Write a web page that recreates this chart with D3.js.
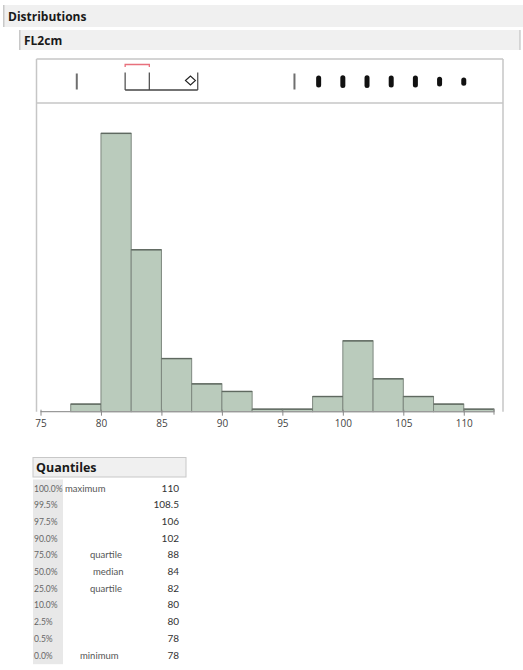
<!DOCTYPE html>
<html>
<head>
<meta charset="utf-8">
<script src="https://cdn.jsdelivr.net/npm/d3@7"></script>
<style>
  html, body { margin: 0; padding: 0; background: #fff; }
  svg { display: block; }
  text { font-family: "Open Sans", "Noto Sans", sans-serif; }
  .tbl text { font-family: Lato, "Open Sans", sans-serif; }
</style>
</head>
<body>
<svg id="chart" width="523" height="670"></svg>
<script>
// FL2cm distribution: histogram bins (width 2.5), outlier box plot and quantiles
const binStart = 77.5;
const binWidth = 2.5;
const binCounts = [3, 110, 64, 21, 11, 8, 1, 1, 6, 28, 13, 6, 3, 1];

const axisTicks = [75, 80, 85, 90, 95, 100, 105, 110];

const quartile1 = 82;
const median = 84;
const quartile3 = 88;
const meanValue = 87.4;
const shortestHalf = [82, 84];

const faintOutliers = [78, 96];
const outlierValues = [98, 100, 102, 104, 106, 108, 110];
const outlierCounts = [6, 8, 8, 6, 6, 3, 1];

const quantileLevels = ["100.0%", "99.5%", "97.5%", "90.0%", "75.0%", "50.0%", "25.0%", "10.0%", "2.5%", "0.5%", "0.0%"];
const quantileNames = ["maximum", "", "", "", "quartile", "median", "quartile", "", "", "", "minimum"];
const quantileValues = ["110", "108.5", "106", "102", "88", "84", "82", "80", "80", "78", "78"];

const svg = d3.select("#chart");

// ---- section headers ----
svg.append("rect").attr("x", 3).attr("y", 5).attr("width", 520).attr("height", 22).attr("fill", "#f0f0f0");
svg.append("rect").attr("x", 3).attr("y", 5).attr("width", 1.5).attr("height", 22).attr("fill", "#c8c8c8");
svg.append("text").attr("x", 8).attr("y", 21).attr("font-size", 12).attr("font-weight", "bold")
  .attr("fill", "#1a1a1a").text("Distributions");

svg.append("rect").attr("x", 19).attr("y", 30).attr("width", 501).attr("height", 20).attr("fill", "#f0f0f0");
svg.append("rect").attr("x", 19).attr("y", 30).attr("width", 1.5).attr("height", 20).attr("fill", "#c8c8c8");
svg.append("rect").attr("x", 519.5).attr("y", 30).attr("width", 1).attr("height", 20).attr("fill", "#b8b8b8");
svg.append("text").attr("x", 24).attr("y", 45).attr("font-size", 12).attr("font-weight", "bold")
  .attr("fill", "#1a1a1a").text("FL2cm");

// ---- plot frame ----
const frameL = 36.5, frameR = 503, frameT = 59, frameSep = 103, frameB = 411.7;

const x = d3.scaleLinear().domain([75, 112.5]).range([40.5, 494]);
const y = d3.scaleLinear().domain([0, 122]).range([frameB, frameSep]);

const frame = svg.append("g").attr("fill", "none").attr("stroke", "#c6c6c6").attr("stroke-width", 1.5);
frame.append("line").attr("x1", frameL).attr("x2", frameR).attr("y1", frameT).attr("y2", frameT);
frame.append("line").attr("x1", frameL).attr("x2", frameR).attr("y1", frameSep).attr("y2", frameSep);
frame.append("line").attr("x1", frameL).attr("x2", frameL).attr("y1", frameT).attr("y2", frameB);
frame.append("line").attr("x1", frameR).attr("x2", frameR).attr("y1", frameT).attr("y2", frameB);

// ---- histogram ----
const bins = binCounts.map((c, i) => ({ x0: binStart + i * binWidth, x1: binStart + (i + 1) * binWidth, count: c }));

svg.append("g").selectAll("rect").data(bins).join("rect")
  .attr("x", d => x(d.x0))
  .attr("y", d => y(d.count))
  .attr("width", d => x(d.x1) - x(d.x0))
  .attr("height", d => y(0) - y(d.count))
  .attr("fill", "#bacbbc")
  .attr("stroke", "#7e887f")
  .attr("stroke-width", 1);

// darker top edges
svg.append("g").selectAll("line").data(bins).join("line")
  .attr("x1", d => x(d.x0)).attr("x2", d => x(d.x1))
  .attr("y1", d => y(d.count)).attr("y2", d => y(d.count))
  .attr("stroke", "#5f6960").attr("stroke-width", 1.4);

// ---- axis ----
const axis = d3.axisBottom(x).tickValues(axisTicks).tickSize(4).tickPadding(4).tickFormat(d3.format("d"));
const axisG = svg.append("g").attr("transform", `translate(0,${frameB})`).call(axis);
axisG.select(".domain").attr("stroke", "#9a9a9a").attr("stroke-width", 1.2)
  .attr("d", `M${x(75)},0H${x(112.5)}`);
axisG.selectAll(".tick line").attr("stroke", "#8a8a8a").attr("y1", -2);
axisG.selectAll(".tick text").attr("font-size", 10).attr("fill", "#444")
  .attr("font-family", "'Open Sans', sans-serif");
axisG.append("line").attr("x1", x(112.5)).attr("x2", x(112.5)).attr("y1", -3).attr("y2", 3)
  .attr("stroke", "#8a8a8a");

// ---- outlier box plot ----
const box = svg.append("g");
const boxTop = 72.5, boxBot = 90;
[quartile1, median, quartile3].forEach(v => {
  box.append("line").attr("x1", x(v)).attr("x2", x(v)).attr("y1", boxTop).attr("y2", boxBot)
    .attr("stroke", "#555").attr("stroke-width", 1.3);
});
box.append("line").attr("x1", x(quartile1)).attr("x2", x(quartile3)).attr("y1", boxBot).attr("y2", boxBot)
  .attr("stroke", "#444").attr("stroke-width", 1.3);

// mean diamond
const mx = x(meanValue), my = 80.5;
box.append("path").attr("d", `M${mx - 5},${my}L${mx},${my - 4.5}L${mx + 5},${my}L${mx},${my + 4.5}Z`)
  .attr("fill", "#fff").attr("stroke", "#222").attr("stroke-width", 1.1);

// shortest half bracket
box.append("path")
  .attr("d", `M${x(shortestHalf[0])},67V64.5H${x(shortestHalf[1])}V67`)
  .attr("fill", "none").attr("stroke", "#e8707c").attr("stroke-width", 1.3);

// outliers
box.selectAll(".faint").data(faintOutliers).join("rect").attr("class", "faint")
  .attr("x", d => x(d) - 1).attr("y", 73.5).attr("width", 2).attr("height", 16)
  .attr("fill", "#6f6f6f");

const capH = c => 7.5 + Math.min(c, 7) * 0.75;
box.selectAll(".out").data(outlierValues).join("rect").attr("class", "out")
  .attr("x", d => x(d) - 2.5)
  .attr("y", (d, i) => 81.5 - capH(outlierCounts[i]) / 2)
  .attr("width", 5)
  .attr("height", (d, i) => capH(outlierCounts[i]))
  .attr("rx", 2.5)
  .attr("fill", "#111");

// ---- quantiles table ----
const tbl = svg.append("g").attr("class", "tbl");
const tX = 33, tW = 153, rowH = 16.7, firstRow = 488;
tbl.append("rect").attr("x", tX).attr("y", 457.5).attr("width", tW).attr("height", 19.5)
  .attr("fill", "#f0f0f0").attr("stroke", "#c8c8c8");
tbl.append("text").attr("x", tX + 3).attr("y", 472).attr("font-size", 12.5).attr("font-weight", "bold")
  .attr("fill", "#1a1a1a").style("font-family", "'Open Sans', sans-serif").text("Quantiles");

tbl.append("rect").attr("x", tX).attr("y", 479.5).attr("width", 30)
  .attr("height", rowH * quantileLevels.length + 1).attr("fill", "#e8e8e8");

const nameX = { maximum: 65, quartile: 90, median: 93, minimum: 80 };

quantileLevels.forEach((lvl, i) => {
  const cy = firstRow + i * rowH + 3.5;
  tbl.append("text").attr("x", tX + 1).attr("y", cy).attr("font-size", 8.5).attr("fill", "#666").text(lvl);
  if (quantileNames[i]) {
    tbl.append("text").attr("x", nameX[quantileNames[i]]).attr("y", cy).attr("font-size", 9.5)
      .attr("fill", "#555").text(quantileNames[i]);
  }
  tbl.append("text").attr("x", 179).attr("y", cy).attr("font-size", 10).attr("text-anchor", "end")
    .attr("fill", "#333").text(quantileValues[i]);
});
</script>
</body>
</html>
